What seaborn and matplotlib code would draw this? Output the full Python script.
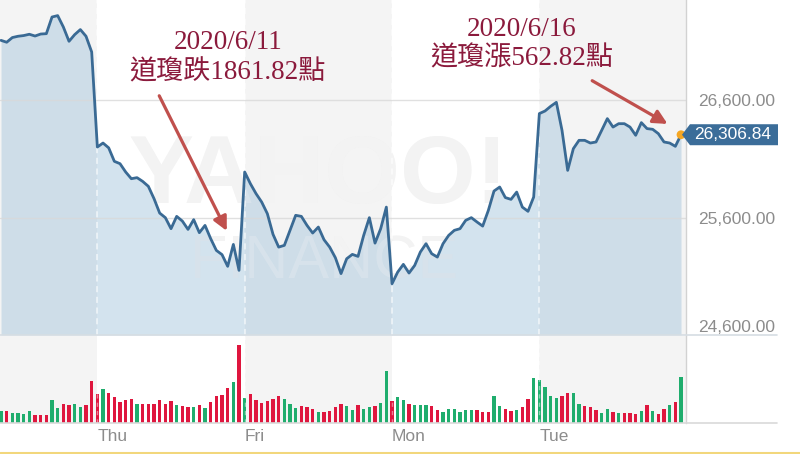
import matplotlib
matplotlib.use("Agg")
import matplotlib.pyplot as plt
import seaborn as sns
import pandas as pd
from matplotlib import transforms
from matplotlib.patches import Polygon
from matplotlib.lines import Line2D

# ---------------- data (15-minute bars, Wed partial .. Tue) ----------------
price = [27111, 27095, 27135, 27146, 27152, 27163, 27148, 27165, 27168, 27310, 27322,
         27225, 27103, 27160, 27203, 27146, 27012,
         26202, 26236, 26195, 26080, 26060, 25989, 25932, 25941, 25909, 25867, 25762,
         25639, 25600, 25506, 25611, 25571, 25500, 25583, 25472, 25534, 25421, 25321,
         25285, 25185, 25372, 25151,
         25989, 25890, 25805, 25733, 25634, 25458, 25349, 25364, 25492, 25620, 25611,
         25534, 25469, 25520, 25412, 25349, 25259, 25123, 25250, 25287, 25270, 25449,
         25600, 25383, 25506, 25690,
         25037, 25136, 25202, 25128, 25193, 25307, 25378, 25293, 25264, 25378, 25449,
         25492, 25506, 25577, 25600, 25563, 25528, 25662, 25827, 25861, 25771, 25756,
         25818, 25690, 25654, 25776,
         26487, 26509, 26549, 26583, 26344, 26003, 26188, 26259, 26259, 26236, 26245,
         26344, 26444, 26372, 26401, 26401, 26372, 26302, 26410, 26359, 26353, 26316,
         26245, 26236, 26208, 26306.84]

volume = [36, 36, 30, 31, 26, 35, 25, 24, 24, 68, 46, 56, 54, 57, 48, 54, 126,
          87, 101, 89, 78, 63, 68, 72, 58, 57, 56, 56, 69, 57, 66, 54, 50, 49, 47, 54,
          46, 63, 81, 83, 106, 123, 235,
          75, 88, 70, 60, 67, 72, 81, 72, 57, 46, 50, 47, 43, 33, 33, 36, 47, 58, 52,
          39, 54, 41, 49, 51, 60, 156,
          65, 77, 69, 57, 54, 54, 54, 52, 40, 34, 42, 42, 33, 38, 38, 38, 33, 34, 80,
          50, 43, 36, 40, 48, 72, 136,
          128, 108, 80, 75, 82, 89, 90, 58, 51, 48, 39, 29, 43, 33, 30, 29, 29, 28, 36,
          53, 35, 27, 43, 55, 62, 138]

direction = list("grggggrrrggrrggrr"
                 "rgrrrrrgrrrrrrgrrgrgrrrrgr"
                 "grrrrrrgggrrrgrrrrggrggrgg"
                 "rggrgggrrggggggrrrggrrgrrg"
                 "ggggrrggrrrggrgrrrgrgrrgrg")

day_labels = ["Thu", "Fri", "Mon", "Tue"]
day_open_idx = [17, 43, 69, 95]
price_ticks = [24600, 25600, 26600]
last_price = 26306.84

note1 = "2020/6/11\n道瓊跌1861.82點"
note2 = "2020/6/16\n道瓊漲562.82點"

df = pd.DataFrame({"i": range(len(price)), "price": price,
                   "volume": volume, "dir": direction})

# ---------------- style ----------------
sns.set_theme(style="white")
plt.rcParams["font.family"] = ["Liberation Sans", "DejaVu Sans"]

W, H = 800, 454
fig = plt.figure(figsize=(W / 100, H / 100), dpi=100)
fig.patch.set_facecolor("white")

ax = fig.add_axes([0, 1 - 335 / H, 686 / W, 335 / H])
axv = fig.add_axes([0, 1 - 423 / H, 686 / W, 87 / H])

xlim = (-0.18, 120.88)
band_col = "#f4f4f4"
for a in (ax, axv):
    a.set_facecolor("white")
    a.axvspan(xlim[0], day_open_idx[0], color=band_col, lw=0, zorder=0)
    a.axvspan(day_open_idx[1], day_open_idx[2], color=band_col, lw=0, zorder=0)
    a.axvspan(day_open_idx[3], xlim[1], color=band_col, lw=0, zorder=0)
    for s in ("top", "left", "bottom"):
        a.spines[s].set_visible(False)
    a.spines["right"].set_color("#d2d2d2")
    a.spines["right"].set_linewidth(1)
    a.set_xlim(*xlim)

ylim = (24600, 27455)
ax.set_ylim(*ylim)

# faint watermark
ax.text(56, 25935, "YAHOO!", fontsize=70, color="#f0f0f0", ha="center",
        va="center", zorder=0.5, fontweight="bold")
ax.text(56, 25935, "YAHOO!", fontsize=70, color="white", alpha=0.22,
        ha="center", va="center", zorder=2.6, fontweight="bold")
ax.text(57, 25210, "FINANCE", fontsize=44, color="#f0f0f0", ha="center",
        va="center", zorder=0.5)
ax.text(57, 25210, "FINANCE", fontsize=44, color="white", alpha=0.22,
        ha="center", va="center", zorder=2.6)

# price area + line
ax.fill_between(df["i"], df["price"], ylim[0], color="#a9c8de", alpha=0.5,
                lw=0, zorder=2)
sns.lineplot(data=df, x="i", y="price", ax=ax, color="#3a6a94", lw=2.0,
             zorder=4)
for yv in price_ticks[1:]:
    ax.axhline(yv, color="#d9d9d9", lw=1, alpha=0.8, zorder=2.5)
for d in day_open_idx:
    ax.axvline(d, color="white", lw=1.1, ls=(0, (4, 3)), alpha=0.7, zorder=3)

ax.scatter([df["i"].iloc[-1]], [last_price], s=40, color="#f5a623", zorder=6,
           clip_on=False, edgecolor="none")

ax.yaxis.tick_right()
ax.set_yticks(price_ticks)
ax.set_yticklabels([f"{v:,.2f}" for v in price_ticks])
ax.tick_params(axis="y", length=0, pad=9, labelsize=12.5, labelcolor="#8c8c8c")
ax.get_yticklabels()[0].set_va("bottom")
ax.set_xticks([])
ax.set_xlabel("")
ax.set_ylabel("")

# annotations
txt_col = "#8b1a3c"
arr_col = "#c0504d"
fam = ["Liberation Serif", "Noto Sans CJK TC"]
ax.text(40.0, 26962, note1, ha="center", va="center", multialignment="center",
        fontsize=19.5, color=txt_col, family=fam, linespacing=1.22, zorder=7)
ax.text(91.9, 27077, note2, ha="center", va="center", multialignment="center",
        fontsize=19.5, color=txt_col, family=fam, linespacing=1.22, zorder=7)
ax.annotate("", xy=(40.06, 25466), xytext=(27.7, 26660),
            arrowprops=dict(arrowstyle="-|>,head_length=0.7,head_width=0.35",
                            color=arr_col, lw=2.3), zorder=7)
ax.annotate("", xy=(118.05, 26387), xytext=(103.9, 26779),
            arrowprops=dict(arrowstyle="-|>,head_length=0.7,head_width=0.35",
                            color=arr_col, lw=2.3), zorder=7)

# volume bars
sns.barplot(data=df, x="i", y="volume", hue="dir", ax=axv, native_scale=True,
            palette={"g": "#1fad6d", "r": "#df163e"}, width=0.6, dodge=False,
            saturation=1, legend=False, linewidth=0, zorder=2)
for d in day_open_idx:
    axv.axvline(d, color="white", lw=1.0, ls=(0, (3, 3)), alpha=0.45, zorder=3)
axv.set_xlim(*xlim)
axv.set_ylim(0, 262)
axv.set_yticks([])
axv.set_xticks(day_open_idx)
axv.set_xticklabels(day_labels, ha="left")
axv.tick_params(axis="x", length=0, pad=4, labelsize=12.5, labelcolor="#8c8c8c")
axv.set_xlabel("")
axv.set_ylabel("")

# horizontal separators extending to the label column
fig.add_artist(Line2D([0, 777 / W], [1 - 334.6 / H] * 2, color="#d6dde3", lw=1.2))
fig.add_artist(Line2D([0, 777 / W], [1 - 423 / H] * 2, color="#d9d9d9", lw=1.2))
fig.add_artist(Line2D([0, 1], [1.2 / H] * 2, color="#f2d77c", lw=2.2))

# current-value tag
fig.canvas.draw()
yc = ax.transData.transform((0, last_price))[1]
tag = Polygon([(682, yc), (690, yc + 10.5), (778, yc + 10.5), (778, yc - 10.5),
               (690, yc - 10.5)], closed=True, facecolor="#3b6d99",
              edgecolor="none", transform=transforms.IdentityTransform(),
              zorder=8)
fig.add_artist(tag)
fig.text(694 / W, yc / H, f"{last_price:,.2f}", color="white", fontsize=12.5,
         ha="left", va="center", zorder=9)

fig.savefig("out.png", dpi=100)
